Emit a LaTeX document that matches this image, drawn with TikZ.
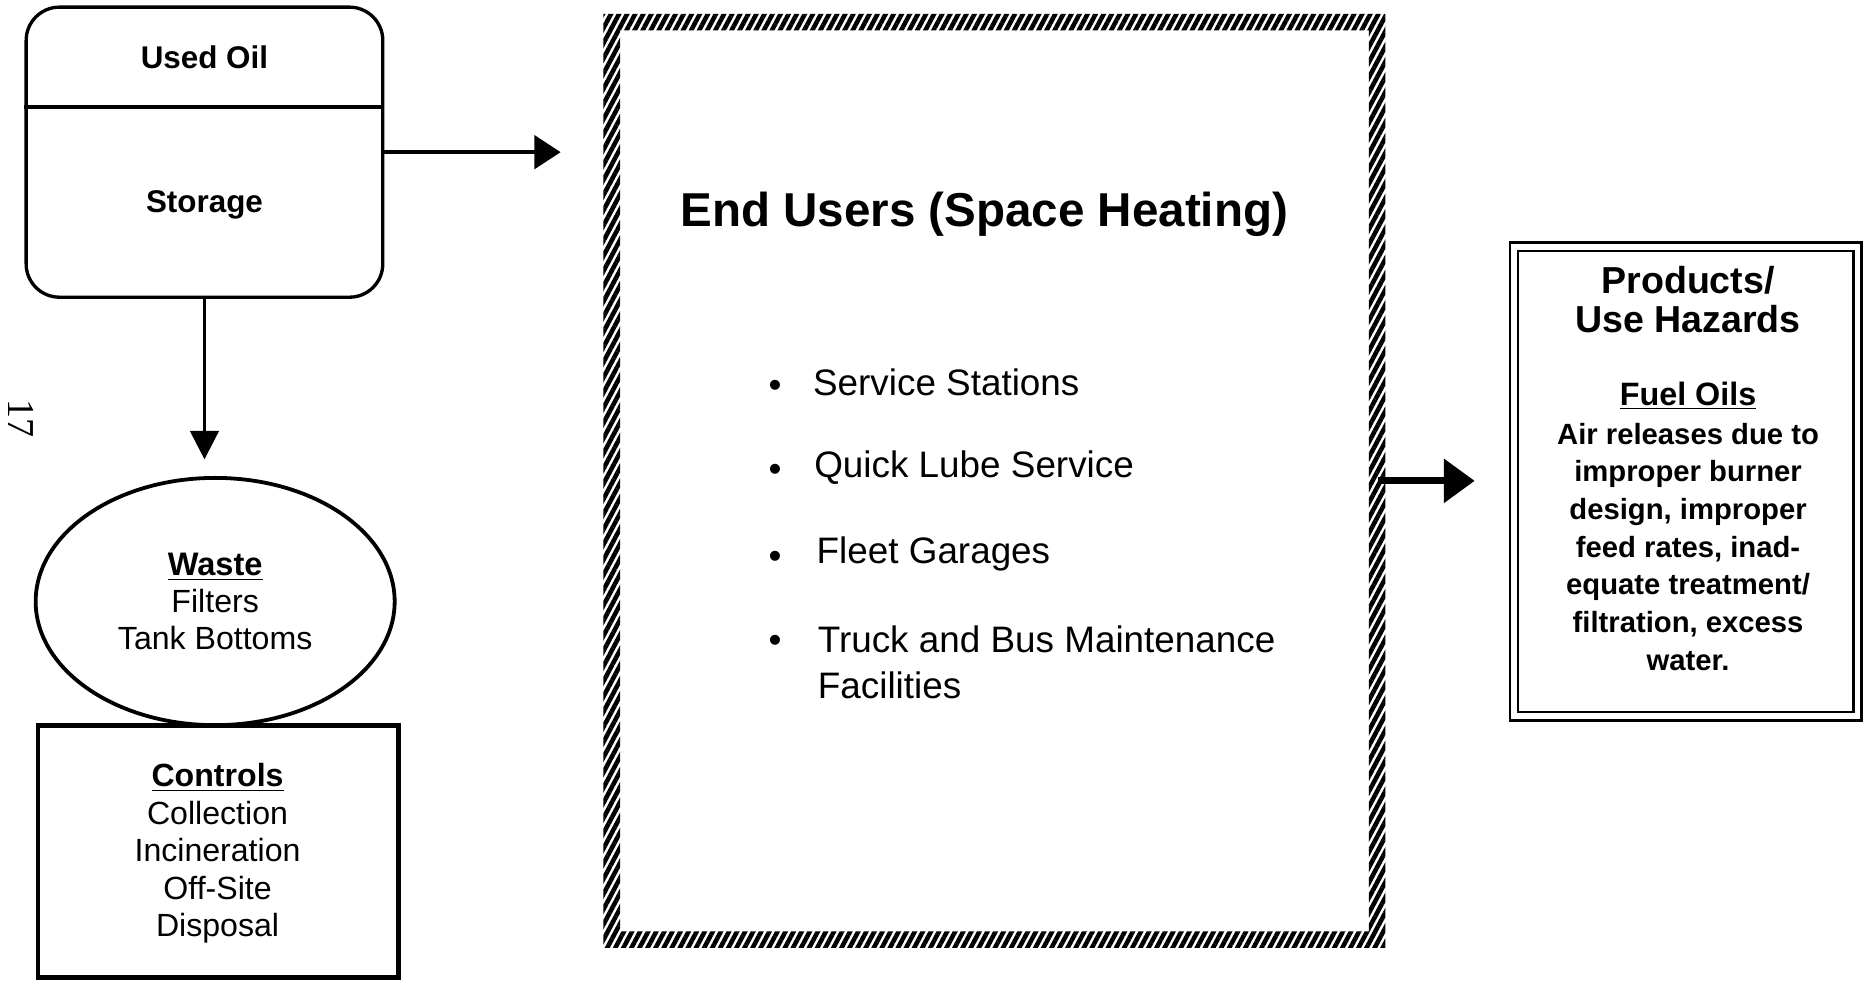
\documentclass[tikz,border=0pt]{standalone}
\usepackage{fontspec}
\setmainfont{Liberation Sans}
\newfontfamily\pagefont{Liberation Serif}
\usetikzlibrary{shapes.geometric,arrows.meta,patterns.meta,calc}

\tikzset{
  txt/.style={inner sep=0pt, outer sep=0pt, align=center},
  boldtxt/.style={txt, font=\bfseries\fontsize{#1}{#1}\selectfont},
  plaintxt/.style={txt, font=\fontsize{#1}{#1}\selectfont},
  flow/.style={line width=1.5pt, -{Triangle[length=11pt,width=14pt]}},
  flowdown/.style={line width=1.3pt, -{Triangle[length=12pt,width=12pt]}},
  heavyflow/.style={line width=3pt, -{Triangle[length=13pt,width=18pt]}},
  hatch/.style={pattern={Lines[angle=62, distance=3pt, line width=1.9pt]}, even odd rule},
}

\begin{document}
\begin{tikzpicture}[x=0.5pt,y=-0.5pt]
\useasboundingbox (0,0) rectangle (1568,825);

% page number
\node[txt, rotate=-90, font=\pagefont\fontsize{16}{16}\selectfont] (page) at (18,352) {17};

% used oil storage tank
\node[draw, line width=1.4pt, rounded corners=14pt, minimum width=150pt, minimum height=122pt] (store) at (172,128) {};
\draw[line width=1.3pt] (store.west |- 0,90) -- (store.east |- 0,90);
\node[boldtxt=13.2] (oiltitle) at (172,48) {Used Oil};
\node[boldtxt=13.2] (stortitle) at (172,172) {Storage};

% waste ellipse
\node[draw, ellipse, line width=1.6pt, minimum width=151pt, minimum height=104pt] (waste) at (181,506) {};
\node[txt, font=\fontsize{13.5}{15.5}\selectfont] (wastetext) at (181,506)
  {{\bfseries\fontsize{13.7}{15.5}\selectfont\underline{Waste}}\\Filters\\Tank Bottoms};

% controls box
\node[draw, line width=2pt, minimum width=151.5pt, minimum height=106pt] (controls) at (183.5,716) {};
\node[txt, font=\fontsize{13.5}{15.75}\selectfont] (controltext) at (183,718)
  {{\bfseries\underline{Controls}}\\Collection\\Incineration\\Off-Site\\Disposal};

% end users frame (hatched border)
\node[minimum width=328.5pt, minimum height=392.5pt, inner sep=0pt] (users) at (836.5,404.5) {};
\path[hatch] (users.north west) rectangle (users.south east)
  ($(users.north west)+(7pt,-7pt)$) rectangle ($(users.south east)+(-7pt,7pt)$);
\node[boldtxt=20] (userstitle) at (828,180) {End Users (Space Heating)};

\foreach \y/\name in {322/b1, 393/b2, 466/b3, 537/b4} {
  \node[plaintxt=15.5] (\name) at (652,\y+5) {\textbullet};
}
\node[plaintxt=15.5, anchor=west] (i1) at (684,322) {Service Stations};
\node[plaintxt=15.5, anchor=west] (i2) at (685,393) {Quick Lube Service};
\node[plaintxt=15.5, anchor=west] (i3) at (687,466) {Fleet Garages};
\node[txt, anchor=west, align=left, font=\fontsize{15.5}{19.5}\selectfont] (i4) at (688,557)
  {Truck and Bus Maintenance\\Facilities};

% products / use hazards box
\node[draw, line width=1pt, double, double distance=2.5pt, minimum width=144.5pt, minimum height=197.5pt] (prod) at (1418,405) {};
\node[txt, font=\bfseries\fontsize{15.8}{16}\selectfont] (prodtitle) at (1420,252) {Products/\\Use Hazards};
\node[boldtxt=13.6] (fuel) at (1420,333) {\underline{Fuel Oils}};
\node[txt, font=\bfseries\fontsize{12.3}{15.85}\selectfont] (prodbody) at (1420,460)
  {Air releases due to\\improper burner\\design, improper\\feed rates, inad-\\equate treatment/\\filtration, excess\\water.};

% connectors
\draw[flow, shorten >=18pt] (store.east) -- (store.east -| users.west);
\draw[flowdown, shorten >=7pt] (store.south) -- (store.south |- waste.north);
\draw[heavyflow, shorten <=-3pt, shorten >=16pt] (users.east) -- (users.east -| prod.west);
\end{tikzpicture}
\end{document}
